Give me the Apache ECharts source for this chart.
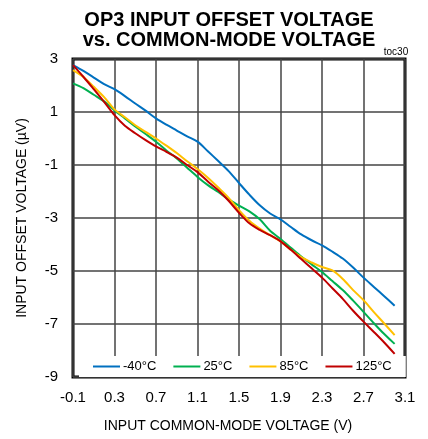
<!DOCTYPE html>
<html>
<head>
<meta charset="utf-8">
<script src="https://cdn.jsdelivr.net/npm/echarts@6/dist/echarts.min.js"></script>
<style>html,body{margin:0;padding:0;background:#fff;}#c{width:428px;height:439px;}</style>
</head>
<body>
<div id="c"></div>
<script>
const titleLines = ['OP3 INPUT OFFSET VOLTAGE', 'vs. COMMON-MODE VOLTAGE'];
const tocLabel = 'toc30';
const xAxisName = 'INPUT COMMON-MODE VOLTAGE (V)';
const yAxisName = 'INPUT OFFSET VOLTAGE (µV)';
const seriesNames = ['-40°C', '25°C', '85°C', '125°C'];
const xValues = [-0.1, 0.0, 0.1, 0.2, 0.3, 0.4, 0.5, 0.6, 0.7, 0.8, 0.9, 1.0, 1.1, 1.2, 1.3, 1.4, 1.5, 1.6, 1.7, 1.8, 1.9, 2.0, 2.1, 2.2, 2.3, 2.4, 2.5, 2.6, 2.7, 2.8, 2.9, 3.0];
const vosM40 = [2.77, 2.55, 2.30, 2.05, 1.86, 1.60, 1.32, 1.05, 0.76, 0.52, 0.30, 0.08, -0.12, -0.48, -0.85, -1.23, -1.68, -2.12, -2.52, -2.83, -3.05, -3.34, -3.62, -3.84, -4.03, -4.27, -4.53, -4.87, -5.25, -5.60, -5.95, -6.31];
const vos25 = [2.08, 1.90, 1.65, 1.40, 1.06, 0.76, 0.45, 0.17, -0.12, -0.45, -0.75, -1.10, -1.45, -1.76, -2.02, -2.30, -2.53, -2.75, -3.05, -3.48, -3.79, -4.12, -4.45, -4.75, -5.04, -5.38, -5.72, -6.12, -6.54, -6.97, -7.38, -7.75];
const vos85 = [2.58, 2.32, 1.95, 1.56, 1.10, 0.80, 0.50, 0.25, 0.00, -0.27, -0.55, -0.86, -1.15, -1.48, -1.85, -2.24, -2.70, -3.10, -3.40, -3.65, -3.88, -4.20, -4.48, -4.68, -4.85, -4.98, -5.30, -5.72, -6.10, -6.55, -6.98, -7.42];
const vos125 = [2.77, 2.33, 1.86, 1.38, 0.88, 0.48, 0.20, -0.06, -0.30, -0.50, -0.72, -1.00, -1.27, -1.62, -1.95, -2.35, -2.80, -3.20, -3.45, -3.65, -3.88, -4.20, -4.55, -4.90, -5.25, -5.65, -6.05, -6.50, -6.91, -7.30, -7.70, -8.13];
const colors = ['#0070C0', '#00B050', '#FFC000', '#C00000'];

const narrow = "'Liberation Sans Narrow', 'Arial Narrow', 'Liberation Sans', Arial, sans-serif";
const allSeries = [vosM40, vos25, vos85, vos125];

const chart = echarts.init(document.getElementById('c'), null, {renderer: 'canvas'});
chart.setOption({
  animation: false,
  backgroundColor: '#fff',
  title: [{
    text: titleLines.join('\n'),
    left: 224, top: 5, textAlign: 'center',
    textStyle: {fontFamily: "'Liberation Sans', Arial, sans-serif", fontWeight: 'bold', fontSize: 20, lineHeight: 20, color: '#000'}
  }, {
    text: tocLabel, left: 391, top: 42, textAlign: 'center',
    textStyle: {fontFamily: narrow, fontWeight: 'normal', fontSize: 10, color: '#000'}
  }],
  grid: {left: 73, top: 59, right: 23, bottom: 62, show: true, borderColor: '#000', borderWidth: 3, backgroundColor: 'transparent'},
  legend: {
    data: seriesNames, left: 79, top: 356, icon: 'rect', itemWidth: 27, itemHeight: 2, itemGap: 17,
    backgroundColor: '#fff', padding: [4, 14, 4, 14],
    textStyle: {fontFamily: narrow, fontSize: 13, color: '#000', padding: [0, 0, 0, -2]}
  },
  xAxis: {
    type: 'value', min: -0.1, max: 3.1, interval: 0.4,
    name: xAxisName, nameLocation: 'middle', nameGap: 42,
    nameTextStyle: {fontFamily: narrow, fontSize: 14, color: '#000', padding: [0, 22, 0, 0]},
    axisLine: {show: false}, axisTick: {show: false},
    axisLabel: {fontFamily: narrow, fontSize: 15, color: '#000', margin: 13, formatter: v => v.toFixed(1)},
    splitLine: {show: true, lineStyle: {color: '#444', width: 1.5}}
  },
  yAxis: {
    type: 'value', min: -9, max: 3, interval: 2,
    name: yAxisName, nameLocation: 'middle', nameGap: 44,
    nameTextStyle: {fontFamily: narrow, fontSize: 14, color: '#000'},
    axisLine: {show: false}, axisTick: {show: false},
    axisLabel: {fontFamily: narrow, fontSize: 15, color: '#000', margin: 15},
    splitLine: {show: true, lineStyle: {color: '#444', width: 1.5}}
  },
  series: seriesNames.map((n, i) => ({
    name: n, type: 'line', smooth: 0.3, showSymbol: false, symbol: 'none',
    lineStyle: {color: colors[i], width: 2}, itemStyle: {color: colors[i]},
    data: xValues.map((x, j) => [x, allSeries[i][j]])
  }))
});
</script>
</body>
</html>
